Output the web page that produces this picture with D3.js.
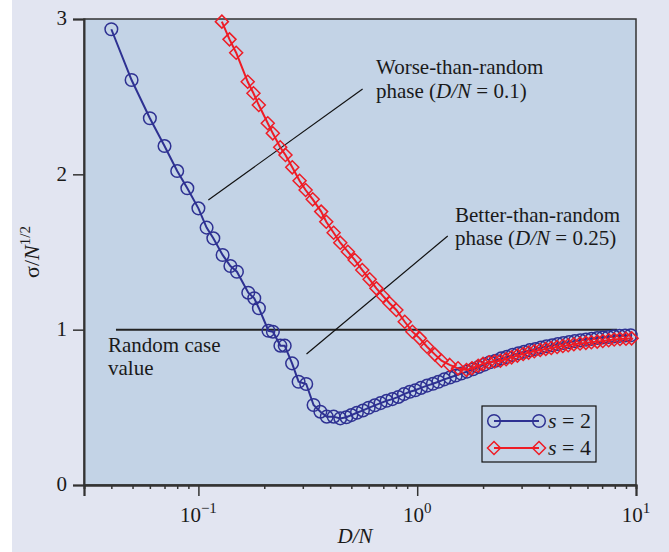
<!doctype html>
<html lang="en">
  <head>
    <meta charset="utf-8" />
    <title>sigma vs D/N</title>
    <style>
      body { margin: 0; background: #fff; }
      text { font-family: "Liberation Serif", "Times New Roman", serif; fill: #1a1a1a; }
    </style>
  </head>
  <body>
    <div id="chart"></div>
    <script src="https://d3js.org/d3.v7.min.js"></script>
    <script>
// data (x = D/N, y = sigma/N^1/2)
var blueX = [0.040, 0.0495, 0.060, 0.070, 0.080, 0.089, 0.100, 0.109, 0.117, 0.129,
  0.140, 0.150, 0.169, 0.180, 0.189, 0.209, 0.219, 0.237, 0.248, 0.268,
  0.287, 0.311, 0.336, 0.361, 0.386, 0.415, 0.445, 0.474,
  0.50, 0.53, 0.565, 0.60, 0.64, 0.68, 0.725, 0.77, 0.82, 0.87,
  0.925, 0.98, 1.04, 1.11, 1.18, 1.25, 1.33, 1.41, 1.50, 1.59,
  1.69, 1.80, 1.91, 2.03, 2.15, 2.28, 2.42, 2.57, 2.73, 2.90,
  3.08, 3.27, 3.47, 3.68, 3.90, 4.14, 4.39, 4.66, 4.95, 5.25,
  5.57, 5.91, 6.27, 6.65, 7.05, 7.48, 7.93, 8.41, 8.92, 9.46];
var blueY = [2.934, 2.607, 2.361, 2.182, 2.021, 1.910, 1.781, 1.657, 1.588, 1.481,
  1.410, 1.373, 1.238, 1.202, 1.138, 0.993, 0.987, 0.897, 0.897, 0.783,
  0.665, 0.650, 0.515, 0.472, 0.440, 0.440, 0.429, 0.436,
  0.45, 0.465, 0.48, 0.497, 0.513, 0.527, 0.542, 0.553, 0.567, 0.585,
  0.60, 0.61, 0.625, 0.64, 0.652, 0.665, 0.68, 0.692, 0.705, 0.718,
  0.73, 0.745, 0.76, 0.775, 0.79, 0.80, 0.815, 0.825, 0.838, 0.848,
  0.858, 0.868, 0.876, 0.885, 0.893, 0.90, 0.908, 0.914, 0.92, 0.926,
  0.931, 0.936, 0.941, 0.946, 0.95, 0.953, 0.957, 0.96, 0.962, 0.964];

var redX = [0.128, 0.1387, 0.1488, 0.168, 0.1785, 0.1888, 0.2075, 0.2188, 0.2365, 0.250,
  0.2685, 0.290, 0.309, 0.333, 0.364, 0.384, 0.415, 0.445, 0.482, 0.518,
  0.561, 0.606, 0.651, 0.697, 0.748, 0.803, 0.877, 0.951, 1.027, 1.109,
  1.203, 1.291, 1.408, 1.537, 1.68,
  1.78, 1.9, 2.0, 2.13, 2.26, 2.4, 2.55, 2.7, 2.87, 3.05,
  3.23, 3.43, 3.65, 3.87, 4.1, 4.36, 4.63, 4.9, 5.2, 5.55,
  5.9, 6.25, 6.65, 7.05, 7.5, 7.95, 8.45, 9.0, 9.55];
var redY = [2.983, 2.869, 2.783, 2.596, 2.522, 2.446, 2.329, 2.264, 2.174, 2.125,
  2.045, 1.959, 1.899, 1.839, 1.760, 1.695, 1.624, 1.560, 1.502, 1.449,
  1.384, 1.324, 1.266, 1.217, 1.170, 1.127, 1.051, 0.987, 0.944, 0.890,
  0.841, 0.800, 0.773, 0.751, 0.740,
  0.752, 0.768, 0.78, 0.79, 0.795, 0.80, 0.81, 0.822, 0.833, 0.843,
  0.852, 0.861, 0.869, 0.876, 0.882, 0.889, 0.895, 0.90, 0.906, 0.911,
  0.915, 0.919, 0.923, 0.927, 0.932, 0.937, 0.94, 0.942, 0.944];

var xMajor = [0.1, 1, 10];
var xMajorExp = ["\u22121", "0", "1"];
var yTicks = [0, 1, 2, 3];
var randomLevel = 1;      // "Random case value"
var randomSpan = [0.042, 8.2];

var W = 669, H = 552;
var margin = {top: 19, right: 33, bottom: 67, left: 84};
var width = W - margin.left - margin.right,
    height = H - margin.top - margin.bottom;

var blue = "#2e3192", red = "#ee1c25";
var fs = "21px";

var svg = d3.select("#chart").append("svg")
  .attr("width", W).attr("height", H);

svg.append("rect").attr("x", 12).attr("y", 0)
  .attr("width", W - 12).attr("height", H).attr("fill", "#e2e5f1");

var g = svg.append("g")
  .attr("transform", "translate(" + margin.left + "," + margin.top + ")");

var x = d3.scaleLog().domain([0.03, 10]).range([0, width]);
var y = d3.scaleLinear().domain([0, 3]).range([height, 0]);

g.append("rect").attr("width", width).attr("height", height)
  .attr("fill", "#c3d3e6").attr("stroke", "#333").attr("stroke-width", 1.5);

// x axis: majors + minors, outward
var minors = [];
[0.01, 0.1, 1].forEach(function (d) {
  for (var k = 2; k <= 9; k++) { var v = d * k; if (v > 0.03 && v < 10) minors.push(v); }
});
var xAxisMinor = d3.axisBottom(x).tickValues(minors).tickSize(4).tickFormat("");
var xAxisMajor = d3.axisBottom(x).tickValues([0.03].concat(xMajor)).tickSize(11).tickFormat("");
[xAxisMinor, xAxisMajor].forEach(function (ax) {
  var a = g.append("g").attr("transform", "translate(0," + height + ")").call(ax);
  a.select(".domain").attr("stroke", "#333").attr("stroke-width", 2);
  a.selectAll(".tick line").attr("stroke", "#333").attr("stroke-width", 1.5);
});

xMajor.forEach(function (v, i) {
  var t = g.append("text").attr("x", x(v)).attr("y", height + 37)
    .attr("text-anchor", "middle").style("font-size", fs);
  t.append("tspan").text("10");
  t.append("tspan").attr("dy", -9).style("font-size", "15px").text(xMajorExp[i]);
});

var yAxis = d3.axisLeft(y).tickValues(yTicks).tickSize(11).tickFormat("");
var ya = g.append("g").call(yAxis);
ya.select(".domain").attr("stroke", "#333").attr("stroke-width", 2);
ya.selectAll(".tick line").attr("stroke", "#333").attr("stroke-width", 1.5);
g.selectAll(".ylab").data(yTicks).enter().append("text")
  .attr("x", -17).attr("y", function (d) { return y(d); }).attr("dy", "0.3em")
  .attr("text-anchor", "end").style("font-size", fs)
  .text(function (d) { return d; });

// axis titles
var xt = g.append("text").attr("x", x(0.52)).attr("y", height + 58)
  .attr("text-anchor", "middle").style("font-size", fs).style("font-style", "italic");
xt.text("D/N");

var yt = svg.append("text").attr("transform", "translate(39,252) rotate(-90)")
  .attr("text-anchor", "middle").style("font-size", "22px");
yt.append("tspan").text("\u03c3/");
yt.append("tspan").style("font-style", "italic").text("N");
yt.append("tspan").attr("dy", -9).style("font-size", "15px").text("1/2");

// random case level
g.append("line")
  .attr("x1", x(randomSpan[0])).attr("x2", x(randomSpan[1]))
  .attr("y1", y(randomLevel)).attr("y2", y(randomLevel))
  .attr("stroke", "#222").attr("stroke-width", 2);

// annotation pointers
var pointers = [
  {from: [0.111, 1.835], to: [0.563, 2.549]},
  {from: [0.312, 0.843], to: [1.379, 1.603]}
];
g.selectAll(".ptr").data(pointers).enter().append("line")
  .attr("x1", function (d) { return x(d.from[0]); })
  .attr("y1", function (d) { return y(d.from[1]); })
  .attr("x2", function (d) { return x(d.to[0]); })
  .attr("y2", function (d) { return y(d.to[1]); })
  .attr("stroke", "#111").attr("stroke-width", 1.2);

var line = d3.line().x(function (d) { return x(d[0]); }).y(function (d) { return y(d[1]); });

var blueData = blueX.map(function (v, i) { return [v, blueY[i]]; });
var redData = redX.map(function (v, i) { return [v, redY[i]]; });

var plot = g.append("g");

plot.append("path").datum(blueData).attr("d", line)
  .attr("fill", "none").attr("stroke", blue).attr("stroke-width", 2);
plot.selectAll(".c").data(blueData).enter().append("circle")
  .attr("cx", function (d) { return x(d[0]); })
  .attr("cy", function (d) { return y(d[1]); })
  .attr("r", 6.3).attr("fill", "none").attr("stroke", blue).attr("stroke-width", 1.5);

var diamond = "M0,-6.5L6.5,0L0,6.5L-6.5,0Z";
plot.append("path").datum(redData).attr("d", line)
  .attr("fill", "none").attr("stroke", red).attr("stroke-width", 2);
plot.selectAll(".dm").data(redData).enter().append("path")
  .attr("d", diamond)
  .attr("transform", function (d) { return "translate(" + x(d[0]) + "," + y(d[1]) + ")"; })
  .attr("fill", "none").attr("stroke", red).attr("stroke-width", 1.5);

// labels
function label(px, py, lines) {
  lines.forEach(function (parts, i) {
    var t = svg.append("text").attr("x", px).attr("y", py[i]).style("font-size", fs);
    parts.forEach(function (p) {
      t.append("tspan").style("font-style", p[1] ? "italic" : "normal").text(p[0]);
    });
  });
}
label(376, [74, 98], [[["Worse-than-random"]], [["phase ("], ["D/N", 1], [" = 0.1)"]]]);
label(455, [222, 245], [[["Better-than-random"]], [["phase ("], ["D/N", 1], [" = 0.25)"]]]);
label(108, [352, 375], [[["Random case"]], [["value"]]]);

// legend
var lg = svg.append("g").attr("transform", "translate(482,406)");
lg.append("rect").attr("width", 114).attr("height", 56)
  .attr("fill", "#c3d3e6").attr("stroke", "#111").attr("stroke-width", 1.2);
[{c: blue, s: "2", m: "circle"}, {c: red, s: "4", m: "diamond"}].forEach(function (e, i) {
  var yy = 15 + i * 27;
  lg.append("line").attr("x1", 12).attr("x2", 57).attr("y1", yy).attr("y2", yy)
    .attr("stroke", e.c).attr("stroke-width", 2);
  [12, 57].forEach(function (xx) {
    if (e.m === "circle") {
      lg.append("circle").attr("cx", xx).attr("cy", yy).attr("r", 6.3)
        .attr("fill", "none").attr("stroke", e.c).attr("stroke-width", 1.5);
    } else {
      lg.append("path").attr("d", diamond).attr("transform", "translate(" + xx + "," + yy + ")")
        .attr("fill", "none").attr("stroke", e.c).attr("stroke-width", 1.5);
    }
  });
  var t = lg.append("text").attr("x", 66).attr("y", yy + 7).style("font-size", "22px");
  t.append("tspan").style("font-style", "italic").text("s");
  t.append("tspan").text(" = " + e.s);
});
    </script>
  </body>
</html>
